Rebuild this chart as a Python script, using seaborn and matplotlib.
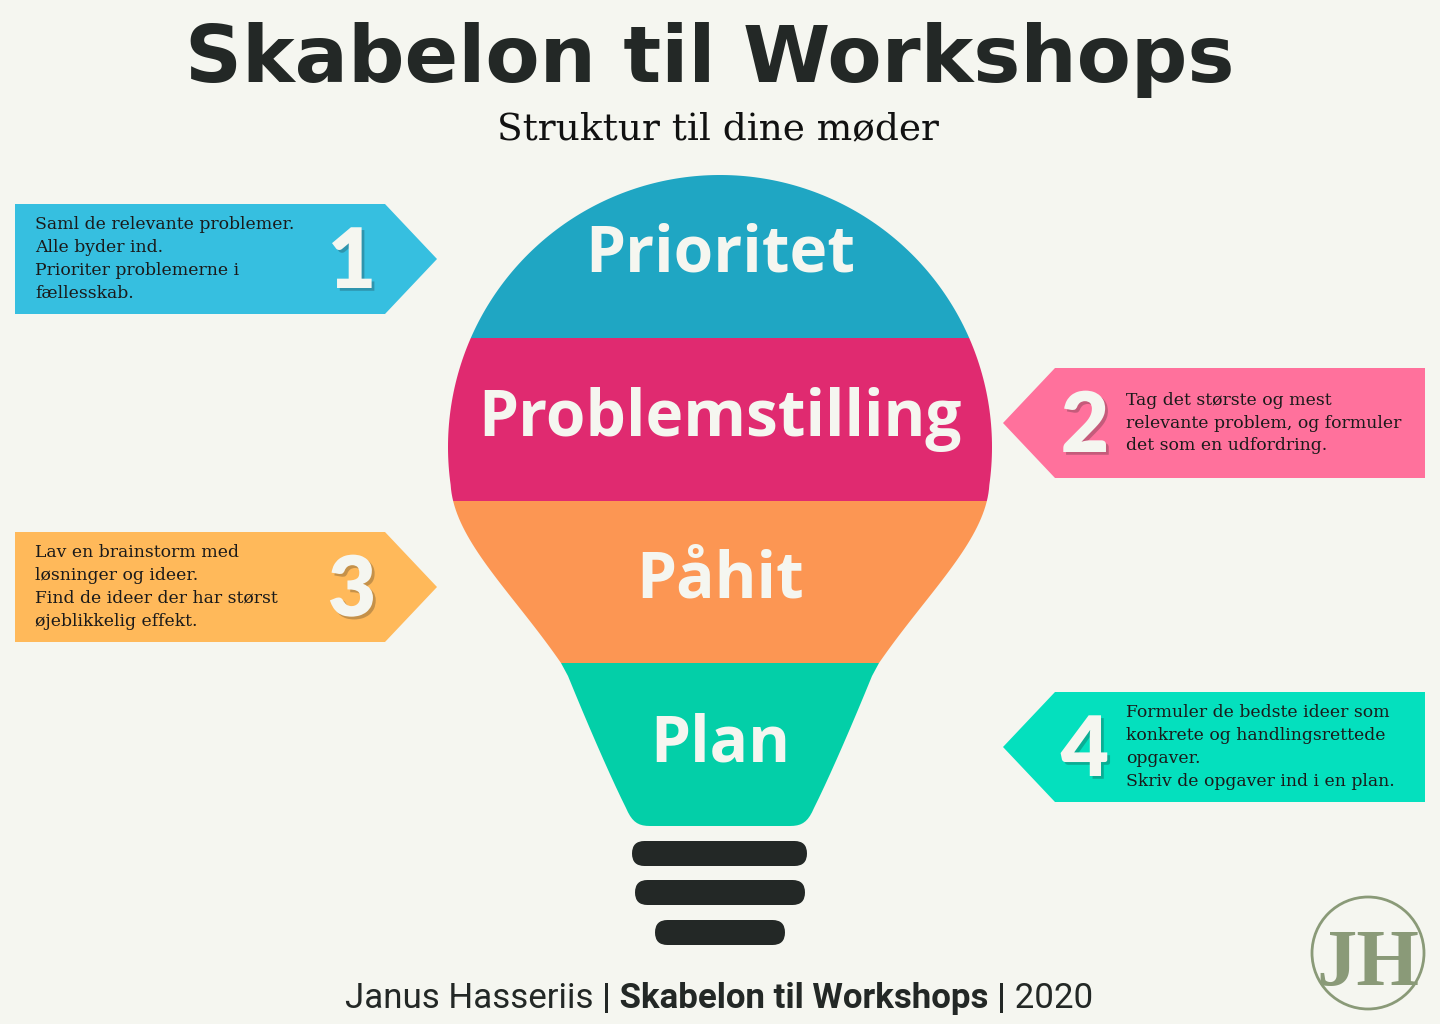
"""Workshop template infographic: light bulb with four steps and side notes."""

import numpy as np
import matplotlib
matplotlib.use('Agg')
import matplotlib.pyplot as plt
import matplotlib.patheffects as pe
from matplotlib.patches import Polygon, FancyBboxPatch, Circle
import seaborn as sns

# ---- data -------------------------------------------------------------
steps = ['Prioritet', 'Problemstilling', 'Påhit', 'Plan']
step_colors = ['#1fa6c3', '#e02a70', '#fc9653', '#03cfa8']

note_numbers = ['1', '2', '3', '4']
note_texts = [
    'Saml de relevante problemer.\nAlle byder ind.\nPrioriter problemerne i\nfællesskab.',
    'Tag det største og mest\nrelevante problem, og formuler\ndet som en udfordring.',
    'Lav en brainstorm med\nløsninger og ideer.\nFind de ideer der har størst\nøjeblikkelig effekt.',
    'Formuler de bedste ideer som\nkonkrete og handlingsrettede\nopgaver.\nSkriv de opgaver ind i en plan.',
]
note_colors = ['#36bfe0', '#ff719c', '#ffb95a', '#04e0be']

title = 'Skabelon til Workshops'
subtitle = 'Struktur til dine møder'
footer_parts = ['Janus Hasseriis ', '| Skabelon til Workshops |', ' 2020']

# ---- layout (pixels, y down) -----------------------------------------
BG = '#f5f6f0'
DARK = '#232826'
W, H = 1440, 1024
band_edges = [175, 338, 501, 663, 830]
label_baselines = [272, 436, 598, 762]
note_rows = [259, 423, 587, 747]
note_left = [True, False, True, False]

sns.set_theme(style='white', rc={'axes.facecolor': BG, 'figure.facecolor': BG})

fig = plt.figure(figsize=(W / 100, H / 100), dpi=100)
ax = fig.add_axes([0, 0, 1, 1])
ax.set_xlim(0, W)
ax.set_ylim(H, 0)
ax.axis('off')


def bezier(p0, p1, p2, p3, n=40):
    t = np.linspace(0, 1, n)[:, None]
    p0, p1, p2, p3 = map(np.asarray, (p0, p1, p2, p3))
    return (1 - t) ** 3 * p0 + 3 * (1 - t) ** 2 * t * p1 + 3 * (1 - t) * t ** 2 * p2 + t ** 3 * p3


def mirror(pts):
    pts = np.array(pts, dtype=float)
    pts[:, 0] = W - pts[:, 0]
    return pts


# bulb outline: round glass on top, tapered neck below
cx, cy, r = 720, 447, 272
t = np.radians(np.linspace(188, -8, 200))
arc = np.column_stack([cx + r * np.cos(t), cy - r * np.sin(t)])
left_neck = bezier(arc[0], (454, 540), (512, 592), (561, 663))
left_lower = np.vstack([
    [[568, 676]],
    bezier((568, 676), (590, 730), (612, 780), (626, 808), 10),
    bezier((626, 808), (632, 822), (638, 826), (650, 826), 10),
])
right_neck = mirror(left_neck)
right_lower = mirror(left_lower)
outline = np.vstack([
    arc,
    right_neck,
    right_lower,
    left_lower[::-1],
    left_neck[::-1],
])
bulb = Polygon(outline, closed=True, facecolor='none', edgecolor='none')
ax.add_patch(bulb)

# the coloured bands, clipped to the bulb
tops = np.array(band_edges[:-1])
heights = np.diff(band_edges)
bars = ax.barh(tops + heights / 2, 620, left=410, height=heights,
               color=step_colors, edgecolor='none')
for b in bars:
    b.set_clip_path(bulb)

for name, yb in zip(steps, label_baselines):
    ax.text(720, yb, name, ha='center', va='baseline', fontsize=46,
            fontweight='bold', family=['Open Sans', 'DejaVu Sans'], color=BG)

# screw base
for x0, y0, w in [(632, 841, 175), (635, 880, 170), (655, 920, 130)]:
    ax.add_patch(FancyBboxPatch((x0, y0), w, 25,
                                boxstyle='round,pad=0,rounding_size=12.5',
                                facecolor=DARK, edgecolor='none'))

# side notes (arrow shaped boxes)
shadow = [pe.withSimplePatchShadow(offset=(2, -2), shadow_rgbFace='k', alpha=0.25)]
for num, txt, col, yc, left in zip(note_numbers, note_texts, note_colors, note_rows, note_left):
    top, bot = yc - 55, yc + 55
    if left:
        pts = [(15, top), (385, top), (437, yc), (385, bot), (15, bot)]
        tx, nx = 35, 352
    else:
        pts = [(1425, top), (1055, top), (1003, yc), (1055, bot), (1425, bot)]
        tx, nx = 1126, 1085
    ax.add_patch(Polygon(pts, closed=True, facecolor=col, edgecolor='none'))
    ax.text(tx, yc, txt, ha='left', va='center', fontsize=12.4,
            family=['DejaVu Serif'], color='#1a1a1a', linespacing=1.45)
    ax.text(nx, yc + 29, num, ha='center', va='baseline', fontsize=60,
            fontweight='heavy', family=['Lato', 'DejaVu Sans'], color=BG,
            path_effects=shadow)

# titles
ax.text(710, 82, title, ha='center', va='baseline', fontsize=57,
        fontweight='bold', family=['DejaVu Sans'], color=DARK)
ax.text(718, 139, subtitle, ha='center', va='baseline', fontsize=27,
        family=['DejaVu Serif'], color='#111111')

# footer with mixed weights, laid out piece by piece
fig.canvas.draw()
renderer = fig.canvas.get_renderer()
weights = ['normal', 'bold', 'normal']
pieces = []
for part, wgt in zip(footer_parts, weights):
    pieces.append(ax.text(0, 1008, part, ha='left', va='baseline', fontsize=23,
                          fontweight=wgt, family=['Roboto', 'DejaVu Sans'],
                          color=DARK))
widths = [p.get_window_extent(renderer).width for p in pieces]
scale = 752 / sum(widths)
for p in pieces:
    p.set_fontsize(23 * scale)
widths = [p.get_window_extent(renderer).width for p in pieces]
x = 719 - sum(widths) / 2
for p, w in zip(pieces, widths):
    p.set_x(x)
    x += w

# logo
sage = '#8a9a78'
ax.add_patch(Circle((1368, 953), 56, facecolor='none', edgecolor=sage, linewidth=2))
ax.text(1368, 985, 'JH', ha='center', va='baseline', fontsize=58, fontweight='bold',
        family=['Liberation Serif', 'DejaVu Serif'], color=sage)

fig.savefig('out.png', dpi=100, facecolor=BG)
plt.close(fig)
